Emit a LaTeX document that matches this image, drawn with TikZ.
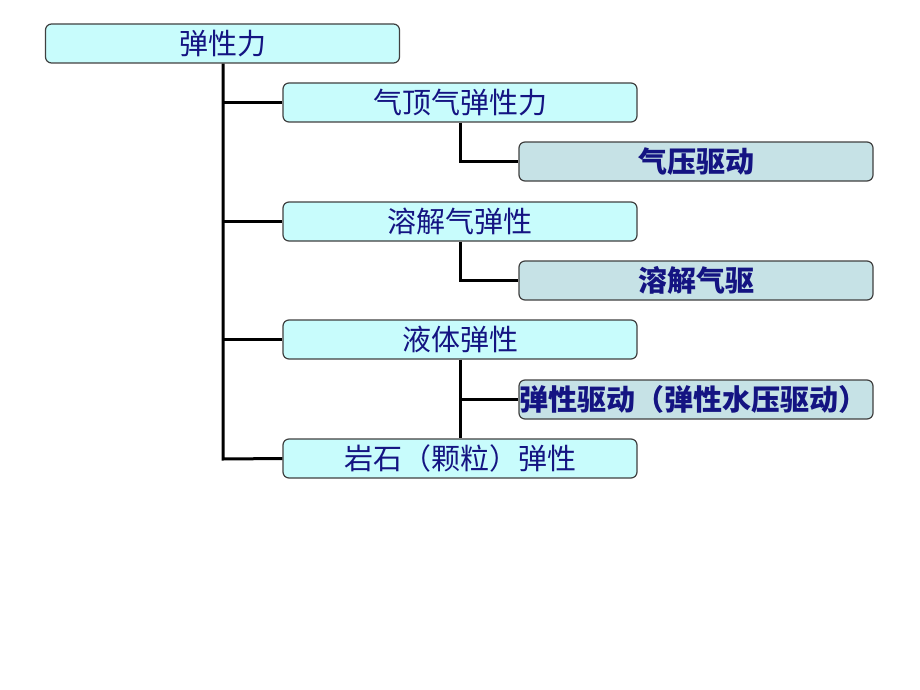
\documentclass[tikz,border=0pt]{standalone}
\usepackage{fontspec}
\newfontfamily\cjk{Noto Sans CJK SC}
\definecolor{boxcyan}{RGB}{200,252,252}
\definecolor{boxgray}{RGB}{198,226,230}
\definecolor{txtblue}{RGB}{20,20,130}
\tikzset{
  box/.style={draw=black!75, line width=1.2pt, rounded corners=6pt, fill=boxcyan,
    minimum width=354pt, minimum height=39pt, inner sep=0pt,
    text=txtblue, font=\cjk\fontsize{29}{29}\selectfont},
  subbox/.style={box, fill=boxgray, font=\cjk\bfseries\fontsize{29}{29}\selectfont},
  link/.style={line width=3pt, line join=miter}
}
\begin{document}
\begin{tikzpicture}[x=1pt, y=-1pt]
    \useasboundingbox (0,0) rectangle (920,690);
    \node[box] (elastic) at (222.5, 43.5) {弹性力};
    \node[box] (gascap) at (460, 102.5) {气顶气弹性力};
    \node[subbox] (gasdrive) at (696, 161.5) {气压驱动};
    \node[box] (solgas) at (460, 221.5) {溶解气弹性};
    \node[subbox] (soldrive) at (696, 280.5) {溶解气驱};
    \node[box] (liquid) at (460, 339.5) {液体弹性};
    \node[subbox] (liqdrive) at (696, 399.5) {\hspace*{-6pt}弹性驱动（弹性水压驱动）};
    \node[box] (rock) at (460, 458.5) {岩石（颗粒）弹性};

    \coordinate (trunk) at (223, 459);
    \draw[link] (elastic.south -| trunk) -- (trunk) -- (rock.west);
    \draw[link] (gascap.west -| trunk) -- (gascap.west);
    \draw[link] (solgas.west -| trunk) -- (solgas.west);
    \draw[link] (liquid.west -| trunk) -- (liquid.west);

    \draw[link] (gascap.south) |- (gasdrive.west);
    \draw[link] (solgas.south) |- (soldrive.west);
    \draw[link] (liquid.south) -- (rock.north);
    \draw[link] (liquid.south |- liqdrive.west) -- (liqdrive.west);
\end{tikzpicture}
\end{document}
